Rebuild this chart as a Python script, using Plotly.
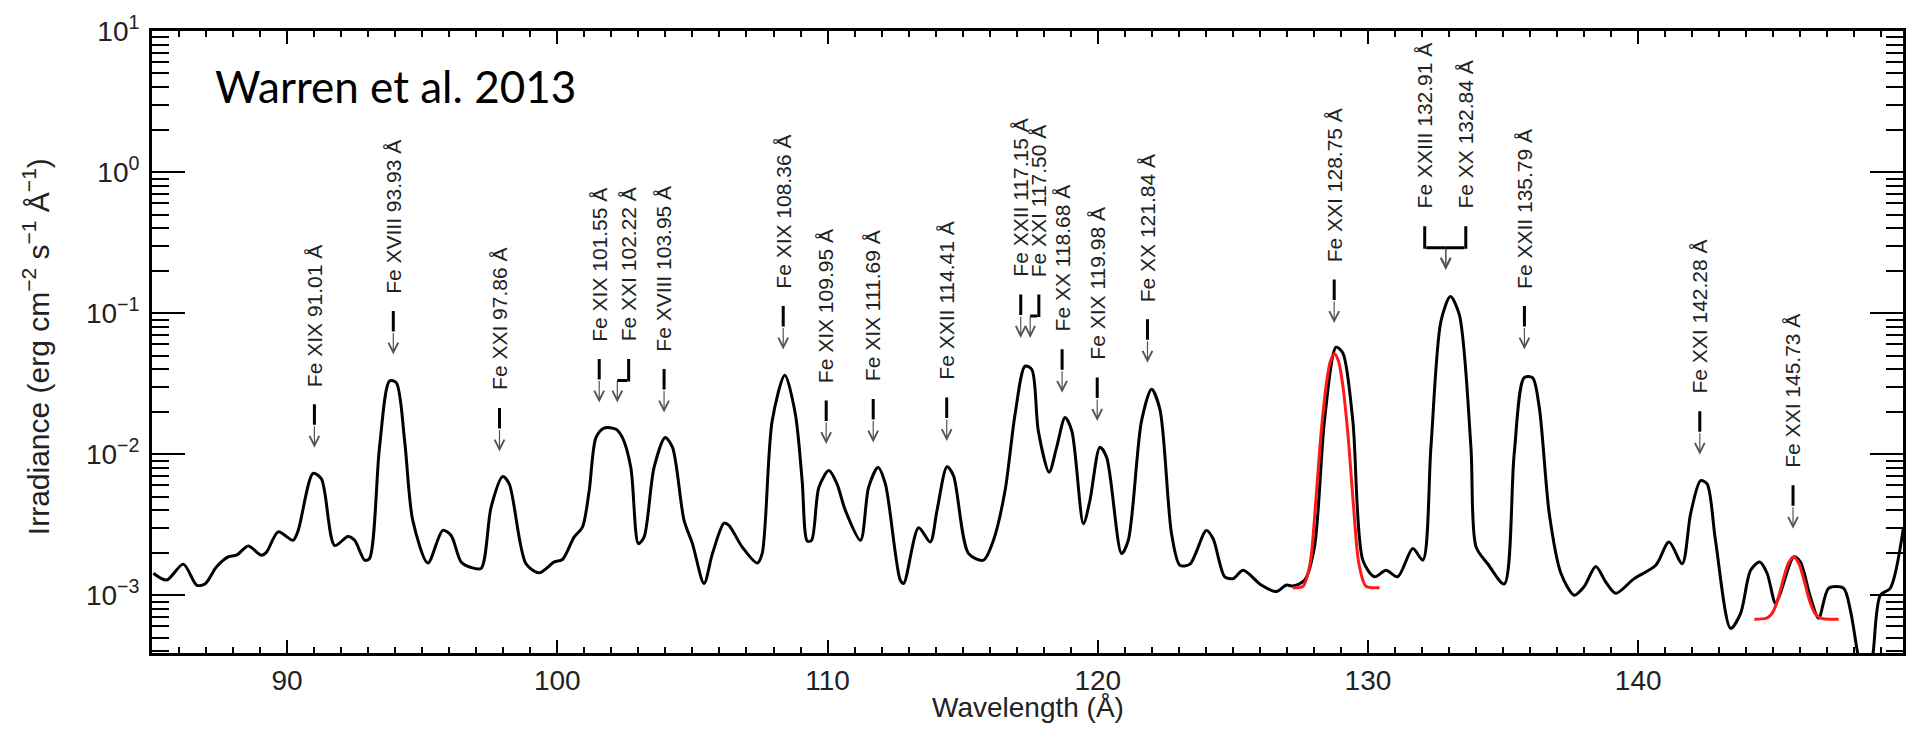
import numpy as np
import plotly.graph_objects as go

# ---------------- data ----------------
wavelength = [
    85.05, 85.54, 86.16, 86.65, 86.96, 87.39, 87.82, 88.13, 88.56, 89.05, 89.24, 89.67,
    90.22, 90.41, 90.96, 91.27, 91.76, 92.25, 92.50, 92.87, 93.05, 93.42, 93.79, 94.04,
    94.35, 94.65, 95.21, 95.76, 96.07, 96.44, 96.81, 97.18, 97.55, 97.98, 98.22, 98.84,
    99.33, 99.89, 100.19, 100.62, 100.93, 101.18, 101.43, 101.73, 102.17, 102.41, 102.72,
    103.00, 103.21, 103.58, 103.99, 104.26, 104.69, 105.00, 105.43, 105.74, 106.17, 106.35,
    106.84, 107.40, 107.58, 107.95, 108.42, 108.81, 109.06, 109.25, 109.41, 109.68, 110.05,
    110.35, 110.66, 111.22, 111.52, 111.87, 112.14, 112.69, 112.82, 113.37, 113.80, 114.05,
    114.42, 114.66, 115.22, 115.77, 116.14, 116.57, 116.94, 117.31, 117.56, 117.80, 118.20,
    118.48, 118.79, 119.04, 119.47, 119.71, 120.08, 120.33, 120.88, 121.13, 121.62, 121.99,
    122.30, 122.73, 123.04, 123.41, 124.02, 124.27, 124.70, 125.01, 125.38, 126.05, 126.61,
    126.98, 127.22, 127.66, 128.02, 128.39, 128.82, 129.07, 129.44, 129.81, 130.24, 130.67,
    131.10, 131.66, 132.03, 132.33, 132.70, 133.05, 133.38, 133.81, 134.00, 134.43, 135.04,
    135.41, 135.78, 136.09, 136.34, 136.71, 137.14, 137.63, 138.00, 138.43, 138.80, 139.17,
    139.85, 140.65, 141.14, 141.63, 141.94, 142.31, 142.55, 142.86, 143.42, 143.79, 144.16,
    144.50, 144.77, 145.08, 145.26, 145.76, 146.00, 146.37, 146.68, 147.05, 147.60, 147.85,
    148.10, 148.30, 148.55, 148.70, 148.96, 149.33, 149.82,
]
irradiance = [
    1.43e-3, 1.28e-3, 1.66e-3, 1.18e-3, 1.20e-3, 1.59e-3, 1.87e-3, 1.92e-3, 2.23e-3, 1.92e-3, 2.02e-3, 2.81e-3,
    2.45e-3, 2.88e-3, 7.31e-3, 6.67e-3, 2.25e-3, 2.61e-3, 2.45e-3, 1.77e-3, 1.82e-3, 1.12e-2, 3.30e-2, 3.21e-2,
    1.24e-2, 3.39e-3, 1.69e-3, 2.88e-3, 2.65e-3, 1.72e-3, 1.57e-3, 1.55e-3, 4.21e-3, 6.93e-3, 6.15e-3, 1.67e-3,
    1.44e-3, 1.72e-3, 1.79e-3, 2.58e-3, 3.04e-3, 5.52e-3, 1.31e-2, 1.53e-2, 1.50e-2, 1.31e-2, 8.05e-3,
    2.32e-3, 2.58e-3, 8.05e-3, 1.31e-2, 1.12e-2, 3.39e-3, 2.32e-3, 1.21e-3, 1.97e-3, 3.24e-3, 3.13e-3,
    2.20e-3, 1.69e-3, 1.97e-3, 1.72e-2, 3.63e-2, 1.92e-2, 6.49e-3, 2.42e-3, 2.45e-3, 5.82e-3, 7.64e-3,
    6.15e-3, 3.99e-3, 2.45e-3, 5.82e-3, 8.05e-3, 6.15e-3, 1.28e-3, 1.21e-3, 3.01e-3, 2.38e-3, 3.98e-3,
    8.15e-3, 7.05e-3, 1.97e-3, 1.77e-3, 2.45e-3, 5.52e-3, 1.92e-2, 4.21e-2, 3.98e-2, 1.46e-2, 7.43e-3,
    1.12e-2, 1.82e-2, 1.46e-2, 3.21e-3, 4.69e-3, 1.12e-2, 9.48e-3, 1.97e-3, 2.45e-3, 1.72e-2, 2.88e-2,
    2.08e-2, 2.73e-3, 1.63e-3, 1.66e-3, 2.88e-3, 2.51e-3, 1.35e-3, 1.31e-3, 1.50e-3, 1.18e-3, 1.06e-3,
    1.18e-3, 1.16e-3, 1.28e-3, 2.20e-3, 1.72e-2, 5.73e-2, 5.22e-2, 1.72e-2, 1.77e-3, 1.35e-3, 1.50e-3,
    1.35e-3, 2.14e-3, 1.77e-3, 1.12e-2, 8.75e-2, 1.31e-1, 9.75e-2, 1.12e-2, 2.20e-3, 1.67e-3, 1.20e-3,
    1.00e-2, 3.48e-2, 3.48e-2, 2.14e-2, 3.78e-3, 1.43e-3, 1.00e-3, 1.15e-3, 1.60e-3, 1.24e-3, 1.03e-3,
    1.31e-3, 1.63e-3, 2.38e-3, 1.67e-3, 3.78e-3, 6.49e-3, 6.15e-3, 2.45e-3, 5.82e-4, 7.43e-4, 1.50e-3,
    1.72e-3, 1.43e-3, 8.75e-4, 1.03e-3, 1.87e-3, 1.72e-3, 9.75e-4, 6.86e-4, 1.12e-3, 1.12e-3, 7.85e-4,
    4.10e-4, 2.50e-4, 2.50e-4, 4.00e-4, 1.00e-3, 1.12e-3, 3.04e-3,
]

fit1_wavelength = [127.22, 127.60, 127.86, 128.06, 128.26, 128.46, 128.61, 128.76,
                   128.91, 129.06, 129.26, 129.46, 129.66, 129.92, 130.43]
fit1_irradiance = [1.13e-3, 1.16e-3, 1.69e-3, 4.4e-3, 1.37e-2, 3.16e-2, 4.55e-2, 5.14e-2,
                   4.55e-2, 3.16e-2, 1.37e-2, 4.4e-3, 1.69e-3, 1.16e-3, 1.13e-3]
fit2_wavelength = [144.30, 144.75, 144.95, 145.15, 145.35, 145.55, 145.75,
                   145.95, 146.15, 146.35, 146.55, 146.75, 147.42]
fit2_irradiance = [6.75e-4, 6.87e-4, 7.39e-4, 9.05e-4, 1.25e-3, 1.67e-3, 1.875e-3,
                   1.67e-3, 1.25e-3, 9.05e-4, 7.39e-4, 6.87e-4, 6.75e-4]

label_text = [
    "Fe XIX 91.01 Å", "Fe XVIII 93.93 Å", "Fe XXI 97.86 Å", "Fe XIX 101.55 Å", "Fe XXI 102.22 Å",
    "Fe XVIII 103.95 Å", "Fe XIX 108.36 Å", "Fe XIX 109.95 Å", "Fe XIX 111.69 Å", "Fe XXII 114.41 Å",
    "Fe XXII 117.15 Å", "Fe XXI 117.50 Å", "Fe XX 118.68 Å", "Fe XIX 119.98 Å", "Fe XX 121.84 Å",
    "Fe XXI 128.75 Å", "Fe XXIII 132.91 Å", "Fe XX 132.84 Å", "Fe XXII 135.79 Å", "Fe XXI 142.28 Å",
    "Fe XXI 145.73 Å",
]
label_arrow_wl = [91.01, 93.93, 97.86, 101.55, 102.22, 103.95, 108.36, 109.95, 111.69, 114.41,
                  117.15, 117.50, 118.68, 119.98, 121.84, 128.75, 132.88, 132.88, 135.79, 142.28, 145.73]
label_text_wl = [91.01, 93.93, 97.86, 101.55, 102.64, 103.95, 108.36, 109.95, 111.69, 114.41,
                 117.15, 117.82, 118.68, 119.98, 121.84, 128.75, 132.10, 133.62, 135.79, 142.28, 145.73]
label_tip = [0.0111, 0.0508, 0.01045, 0.0232, 0.0232, 0.0197, 0.0552, 0.0118, 0.0121, 0.0124,
             0.0667, 0.0667, 0.0272, 0.0172, 0.0444, 0.085, 0.203, 0.203, 0.0552, 0.0099, 0.00296]

x_tick_vals = [90, 100, 110, 120, 130, 140]
x_tick_text = ["90", "100", "110", "120", "130", "140"]
y_tick_vals = [1e-3, 1e-2, 1e-1, 1e0, 1e1]
y_tick_text = ["10<sup>−3</sup>", "10<sup>−2</sup>", "10<sup>−1</sup>", "10<sup>0</sup>", "10<sup>1</sup>"]
y_minor_vals = [m * 10.0 ** e for e in range(-4, 1) for m in range(2, 10)]

FONT = "Liberation Sans, Arial, Helvetica, sans-serif"

fig = go.Figure()
fig.add_trace(go.Scatter(x=wavelength, y=irradiance, mode="lines",
                         line=dict(color="black", width=3, shape="spline", smoothing=0.8),
                         hoverinfo="skip"))
fig.add_trace(go.Scatter(x=fit1_wavelength, y=fit1_irradiance, mode="lines",
                         line=dict(color="#ff1a1a", width=3, shape="spline", smoothing=0.8)))
fig.add_trace(go.Scatter(x=fit2_wavelength, y=fit2_irradiance, mode="lines",
                         line=dict(color="#ff1a1a", width=3, shape="spline", smoothing=0.8)))

ann = []
for name, wa, wt, tip in zip(label_text, label_arrow_wl, label_text_wl, label_tip):
    ly = float(np.log10(tip))
    ann.append(dict(x=wa, y=ly, xref="x", yref="y", text="", showarrow=True, ax=0, ay=-23,
                    arrowhead=5, arrowsize=1.6, arrowwidth=1.2, arrowcolor="#555"))
    if wt == wa:
        ann.append(dict(x=wa, y=ly, xref="x", yref="y", text="", showarrow=True, ax=0, ay=-45,
                        standoff=23, arrowhead=0, arrowwidth=3, arrowcolor="black"))
    else:
        ann.append(dict(x=wa, y=ly, xref="x", yref="y", yshift=22, text="", showarrow=True,
                        axref="x", ax=wt, ayref="pixel", ay=0,
                        arrowhead=0, arrowwidth=3, arrowcolor="black"))
        ann.append(dict(x=wt, y=ly, xref="x", yref="y", text="", showarrow=True, ax=0, ay=-45,
                        standoff=21, arrowhead=0, arrowwidth=3, arrowcolor="black"))
    ann.append(dict(x=wt, y=ly, xref="x", yref="y", yshift=59, text=name, textangle=-90,
                    showarrow=False, xanchor="center", yanchor="bottom",
                    font=dict(family=FONT, size=21, color="#222")))

ann.append(dict(x=(213 - 152) / 1754, y=(653 - 82) / 626, xref="paper", yref="paper",
                text="Warren et al. 2013", showarrow=False, xanchor="left", yanchor="middle",
                font=dict(family="Lato, Noto Sans, sans-serif", size=44, color="black")))
ann.append(dict(x=(36 - 152) / 1754, y=(653 - 345) / 626, xref="paper", yref="paper",
                text="Irradiance (erg cm<sup>−2</sup> s<sup>−1</sup> Å<sup>−1</sup>)",
                textangle=-90, showarrow=False, xanchor="center", yanchor="middle",
                font=dict(family=FONT, size=30, color="#222")))
ann.append(dict(x=0.5, y=(653 - 708) / 626, xref="paper", yref="paper",
                text="Wavelength (Å)", showarrow=False, xanchor="center", yanchor="middle",
                font=dict(family=FONT, size=28, color="#222")))

fig.update_layout(
    width=1917, height=733,
    margin=dict(l=152, r=11, t=27, b=80),
    paper_bgcolor="white", plot_bgcolor="white",
    showlegend=False,
    annotations=ann,
    xaxis=dict(range=[85, 149.8], showline=True, linewidth=3, linecolor="black", mirror="ticks",
               ticks="inside", ticklen=13, tickwidth=2, tickcolor="black",
               tickmode="array", tickvals=x_tick_vals, ticktext=x_tick_text,
               ticklabelstandoff=0,
               minor=dict(ticks="inside", ticklen=6, tickwidth=2, tickcolor="black", dtick=1, tick0=85),
               showgrid=False, zeroline=False,
               tickfont=dict(family=FONT, size=28, color="#222")),
    yaxis=dict(type="log", range=[-3.41, 1.0], showline=True, linewidth=3, linecolor="black",
               mirror="ticks", ticks="inside", ticklen=33, tickwidth=2, tickcolor="black",
               tickmode="array", tickvals=y_tick_vals, ticktext=y_tick_text,
               ticklabelstandoff=4,
               minor=dict(ticks="inside", ticklen=17, tickwidth=2, tickcolor="black",
                          tickmode="array", tickvals=y_minor_vals),
               showgrid=False, zeroline=False,
               tickfont=dict(family=FONT, size=28, color="#222")),
)

fig.write_html("out.html")
